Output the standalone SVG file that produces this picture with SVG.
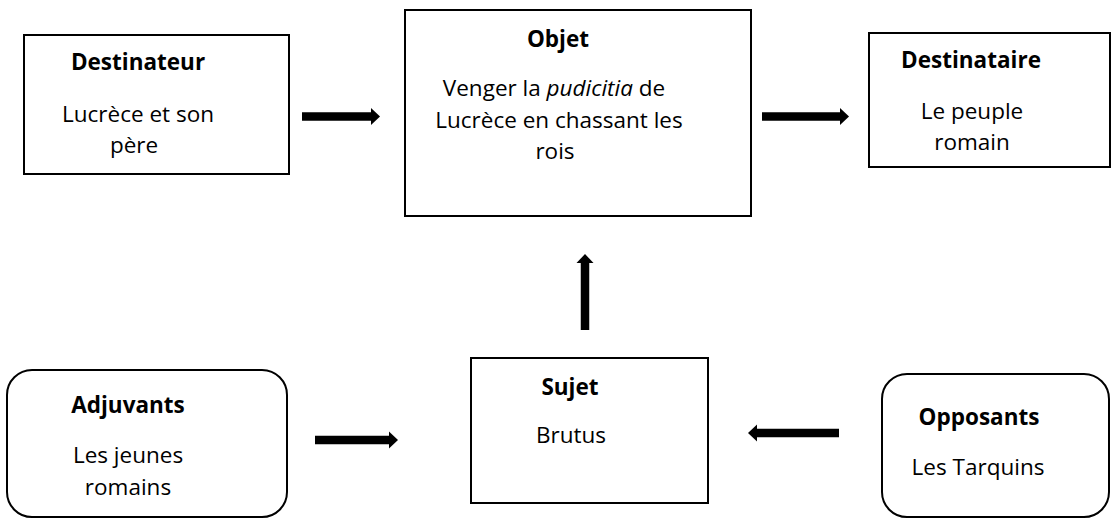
<svg xmlns="http://www.w3.org/2000/svg" width="1111" height="519" viewBox="0 0 1111 519">
<defs>
<style>
.box{fill:#fff;stroke:#000;stroke-width:2}
.t{font-family:"Open Sans","Liberation Sans",sans-serif;font-size:22.5px;fill:#000;text-anchor:middle}
.b{font-weight:bold}
.c{stroke:#000;stroke-width:8.5;fill:none;marker-end:url(#ah)}
</style>
<marker id="ah" markerUnits="userSpaceOnUse" markerWidth="9" markerHeight="17" refX="0" refY="8.5" orient="auto" overflow="visible">
<path d="M0,0 L9,8.5 L0,17 Z" fill="#000"/>
</marker>
</defs>
<rect width="1111" height="519" fill="#fff"/>
<g id="connectors">
<line class="c" x1="302" y1="116.5" x2="371" y2="116.5"/>
<line class="c" x1="762" y1="116.5" x2="840" y2="116.5"/>
<line class="c" x1="585" y1="330" x2="585" y2="263"/>
<line class="c" x1="315" y1="440" x2="389" y2="440"/>
<line class="c" x1="839" y1="433" x2="757" y2="433"/>
</g>
<g id="destinateur">
<rect class="box" x="24" y="35" width="265" height="139"/>
<text class="t b" x="138" y="70">Destinateur</text>
<text class="t" x="138" y="122">Lucrèce et son</text>
<text class="t" x="134" y="153">père</text>
</g>
<g id="objet">
<rect class="box" x="405" y="10" width="346" height="206"/>
<text class="t b" x="558" y="47">Objet</text>
<text class="t" x="554" y="96">Venger la <tspan font-style="italic">pudicitia</tspan> de</text>
<text class="t" x="559" y="128">Lucrèce en chassant les</text>
<text class="t" x="555" y="159">rois</text>
</g>
<g id="destinataire">
<rect class="box" x="869" y="33" width="241" height="134"/>
<text class="t b" x="971" y="68">Destinataire</text>
<text class="t" x="972" y="119">Le peuple</text>
<text class="t" x="972" y="150">romain</text>
</g>
<g id="adjuvants">
<rect class="box" x="7" y="370" width="280" height="147" rx="25" ry="25"/>
<text class="t b" x="128" y="413">Adjuvants</text>
<text class="t" x="128" y="463">Les jeunes</text>
<text class="t" x="128" y="495">romains</text>
</g>
<g id="sujet">
<rect class="box" x="471" y="358" width="237" height="145"/>
<text class="t b" x="570" y="395">Sujet</text>
<text class="t" x="571" y="443">Brutus</text>
</g>
<g id="opposants">
<rect class="box" x="882" y="374" width="227" height="143" rx="25" ry="25"/>
<text class="t b" x="979" y="425">Opposants</text>
<text class="t" x="978" y="475">Les Tarquins</text>
</g>
</svg>
